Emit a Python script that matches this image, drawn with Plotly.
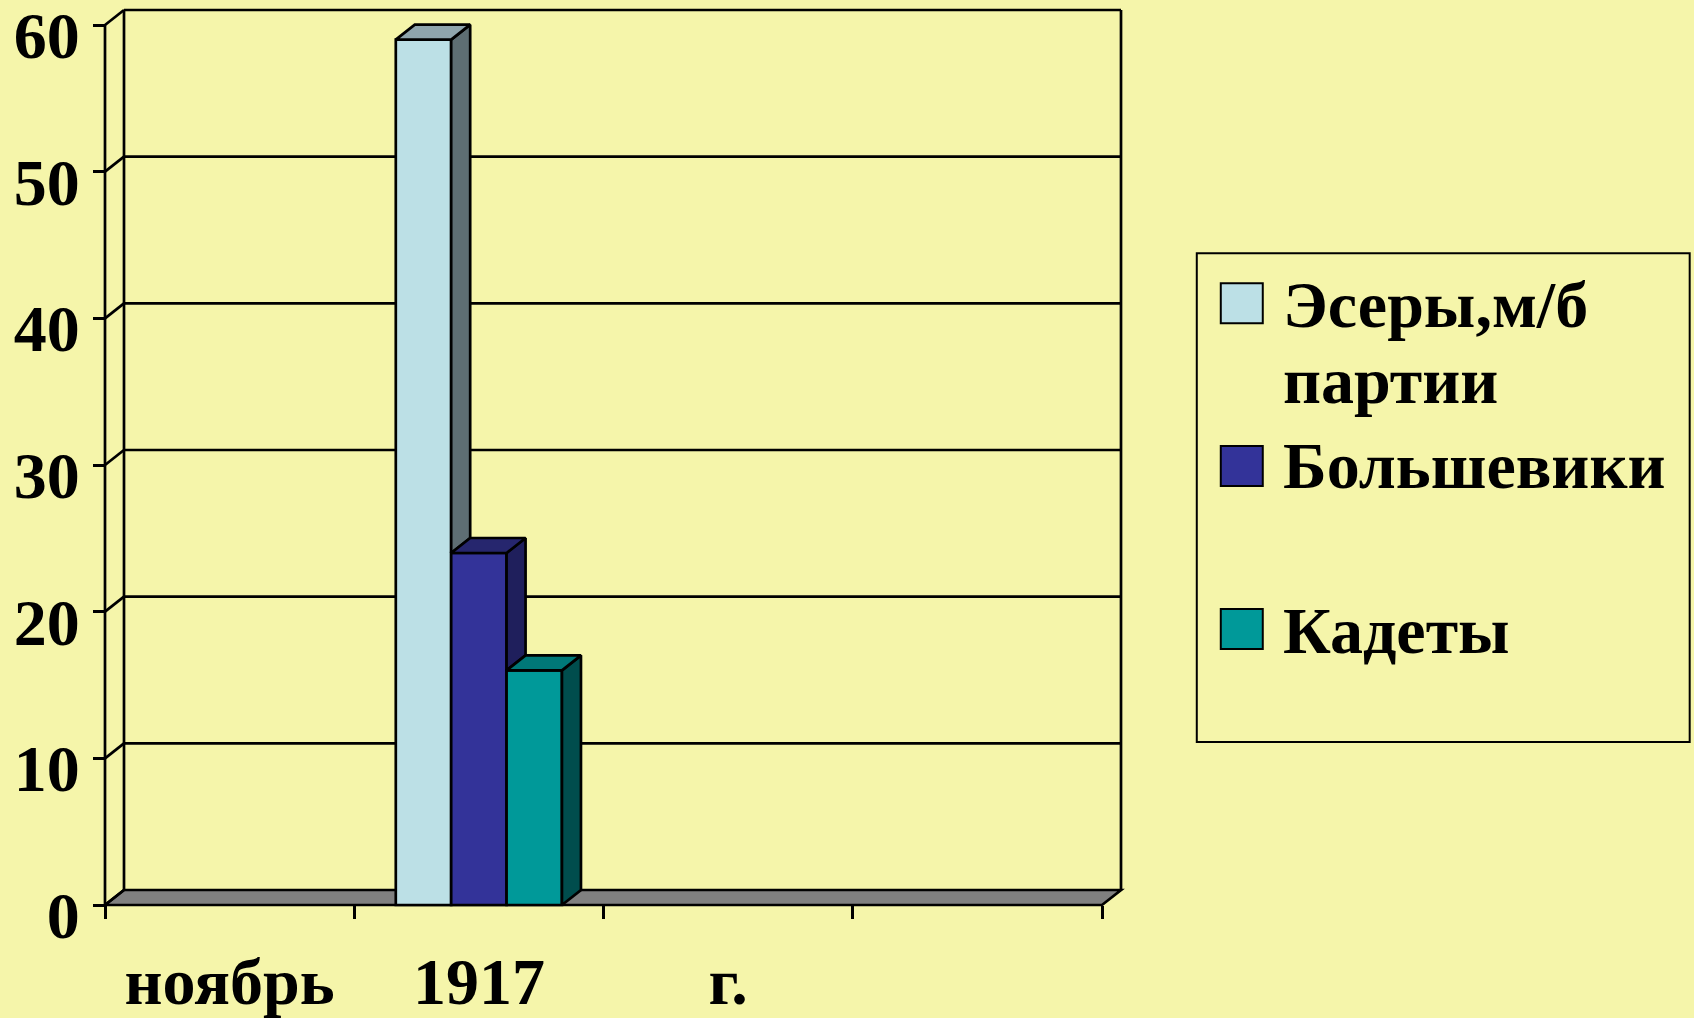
import plotly.graph_objects as go

# ---------------- data ----------------
categories = ["ноябрь", "1917", "г.", " "]
series_names = ["Эсеры,м/б партии", "Большевики", "Кадеты"]
esery = [None, 59, None, None]
bolsheviki = [None, 24, None, None]
kadety = [None, 16, None, None]
y_ticks = [0, 10, 20, 30, 40, 50, 60]

# ---------------- style ----------------
front_colors = ["#BCE0E6", "#333399", "#009999"]
side_colors = ["#5E6E73", "#1F1F5C", "#004D4D"]
top_colors = ["#8FA5AD", "#26266E", "#007878"]
bg = "#F5F5AA"
floor_color = "#808080"
lw = 2.7
FONT = "Liberation Serif, Times New Roman, serif"
FS = 66

W, H = 1694, 1018
px_per_x = 249.3
px_per_y = 14.67
front_left_px = 105
front_zero_py = 905
dx = 19 / px_per_x            # depth offset (x, data units)
dy = 15 / px_per_y            # depth offset (y, data units)
pad = 6                       # pixel padding around frame

ncat = len(categories)
x0, x1 = -0.5, ncat - 0.5
ytop = max(y_ticks)

xr = [x0 - pad / px_per_x, x1 + dx + pad / px_per_x]
yr = [-pad / px_per_y, ytop + dy + pad / px_per_y]
plot_l = front_left_px - pad
plot_w = (xr[1] - xr[0]) * px_per_x
plot_b = front_zero_py + pad
plot_h = (yr[1] - yr[0]) * px_per_y
m_l = plot_l
m_r = W - plot_l - plot_w
m_b = H - plot_b
m_t = H - m_b - plot_h


def paper_x(px):
    return (px - plot_l) / plot_w


def paper_y(py):
    return (plot_b - py) / plot_h


fig = go.Figure()

# ---------------- frame (back wall, grid, floor, front axis) ----------------
shapes = []
line = dict(color="black", width=lw)
# floor
shapes.append(dict(type="path", xref="x", yref="y", layer="below",
                   path=f"M {x0},0 L {x1},0 L {x1+dx},{dy} L {x0+dx},{dy} Z",
                   fillcolor=floor_color, line=line))
# back wall gridlines
for v in y_ticks[1:]:
    shapes.append(dict(type="line", xref="x", yref="y", layer="below",
                       x0=x0 + dx, x1=x1 + dx, y0=v + dy, y1=v + dy, line=line))
# back wall verticals
for xv in (x0 + dx, x1 + dx):
    shapes.append(dict(type="line", xref="x", yref="y", layer="below",
                       x0=xv, x1=xv, y0=dy, y1=ytop + dy, line=line))
# front axis line
shapes.append(dict(type="line", xref="x", yref="y", layer="below",
                   x0=x0, x1=x0, y0=0, y1=ytop, line=line))
# diagonal connectors
for v in y_ticks:
    shapes.append(dict(type="line", xref="x", yref="y", layer="below",
                       x0=x0, x1=x0 + dx, y0=v, y1=v + dy, line=line))

# ---------------- bars ----------------
series = [esery, bolsheviki, kadety]
group_w = 2 / 3
bar_w = group_w / len(series)
xs = list(range(ncat))
for k, (name, vals) in enumerate(zip(series_names, series)):
    fig.add_trace(go.Bar(
        x=xs, y=vals, name=name, width=bar_w, offset=-group_w / 2 + k * bar_w,
        marker=dict(color=front_colors[k], line=dict(color="black", width=lw)),
        showlegend=False,
    ))

# 3D side and top faces
for i in range(ncat):
    for k, vals in enumerate(series):
        v = vals[i]
        if v is None:
            continue
        xl = i - group_w / 2 + k * bar_w
        xrr = xl + bar_w
        nxt = series[k + 1][i] if k + 1 < len(series) else None
        if nxt is None:
            sx = [xrr, xrr + dx, xrr + dx, xrr, xrr]
            sy = [0, dy, v + dy, v, 0]
        elif nxt < v:
            sx = [xrr, xrr + dx, xrr + dx, xrr, xrr]
            sy = [nxt, nxt + dy, v + dy, v, nxt]
        else:
            sx = None
        if sx:
            fig.add_trace(go.Scatter(x=sx, y=sy, mode="lines", fill="toself",
                                     fillcolor=side_colors[k],
                                     line=dict(color="black", width=lw),
                                     hoverinfo="skip", showlegend=False))
        tx = [xl, xrr, xrr + dx, xl + dx, xl]
        ty = [v, v, v + dy, v + dy, v]
        fig.add_trace(go.Scatter(x=tx, y=ty, mode="lines", fill="toself",
                                 fillcolor=top_colors[k],
                                 line=dict(color="black", width=lw),
                                 hoverinfo="skip", showlegend=False))

# ---------------- custom legend ----------------
annotations = []
shapes.append(dict(type="rect", xref="paper", yref="paper",
                   x0=paper_x(1197), x1=paper_x(1690), y0=paper_y(742), y1=paper_y(253),
                   line=dict(color="black", width=2), fillcolor="rgba(0,0,0,0)"))
legend_rows = [
    (0, [("Эсеры,м/б", 304), ("партии", 380)], 283),
    (1, [("Большевики", 465)], 446),
    (2, [("Кадеты", 630)], 609),
]
for k, lines, sw_top in legend_rows:
    shapes.append(dict(type="rect", xref="paper", yref="paper",
                       x0=paper_x(1221), x1=paper_x(1263),
                       y0=paper_y(sw_top + 40), y1=paper_y(sw_top),
                       fillcolor=front_colors[k], line=dict(color="black", width=2)))
    for txt, cy in lines:
        annotations.append(dict(xref="paper", yref="paper", x=paper_x(1281), y=paper_y(cy),
                                xanchor="left", yanchor="middle", showarrow=False,
                                text=txt,
                                font=dict(family=FONT, size=FS, color="black", weight="bold")))

fig.update_layout(
    width=W, height=H,
    margin=dict(l=m_l, r=m_r, t=m_t, b=m_b, pad=0),
    paper_bgcolor=bg, plot_bgcolor=bg,
    barmode="overlay",
    shapes=shapes, annotations=annotations,
    showlegend=False,
    xaxis=dict(
        type="linear", range=xr, anchor="free", position=paper_y(front_zero_py),
        tickmode="array", tickvals=xs, ticktext=categories, ticks="",
        showgrid=False, zeroline=False, showline=False, automargin=False,
        tickfont=dict(family=FONT, size=FS, color="black", weight="bold"),
        ticklabelstandoff=32, ticklabeloverflow="allow",
        minor=dict(tickmode="array", tickvals=[x0 + j for j in range(ncat + 1)],
                   ticks="outside", ticklen=13, tickwidth=lw, tickcolor="black",
                   showgrid=False),
    ),
    yaxis=dict(
        range=yr, anchor="free", position=paper_x(front_left_px),
        tickmode="array", tickvals=y_ticks, ticks="outside", ticklen=12,
        tickwidth=lw, tickcolor="black",
        showgrid=False, zeroline=False, showline=False, automargin=False,
        tickfont=dict(family=FONT, size=FS, color="black", weight="bold"),
        ticklabelshift=10, ticklabelstandoff=0, ticklabeloverflow="allow",
    ),
)

fig.write_html(
    "out.html",
    config={"displayModeBar": False},
    post_script="document.body.style.margin='0';document.body.style.overflow='hidden';",
)
